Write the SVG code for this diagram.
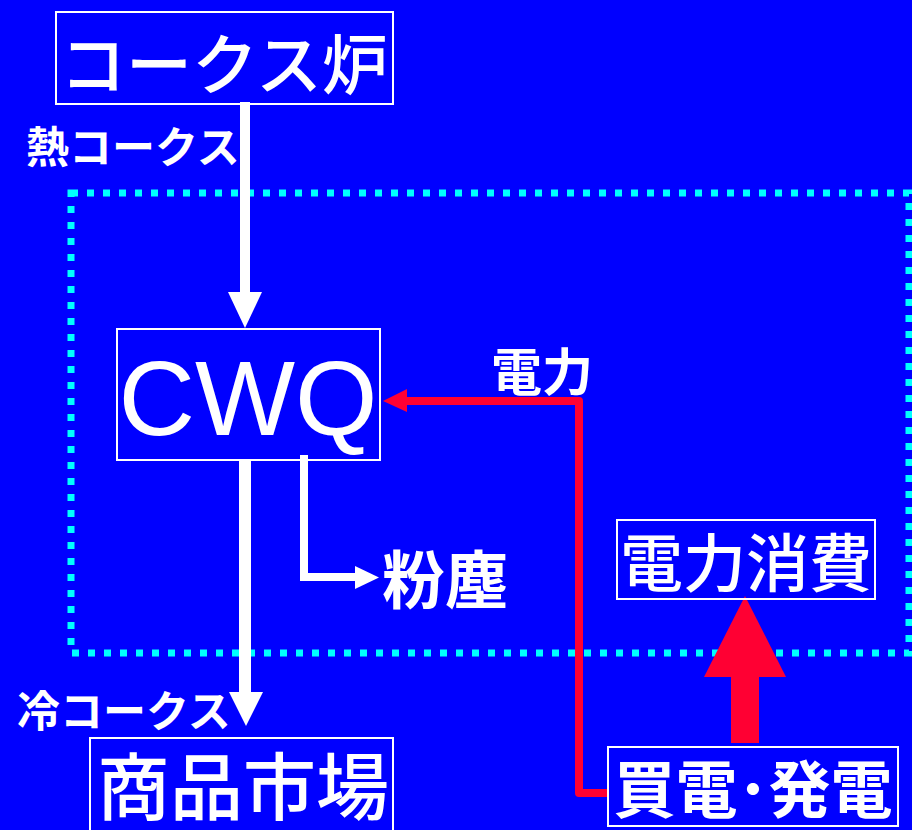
<svg xmlns="http://www.w3.org/2000/svg" width="912" height="830" viewBox="0 0 912 830">
<style>
.box{fill:none;stroke:#fff;stroke-width:2}
.jp{font-family:"Noto Sans CJK JP","Noto Sans",sans-serif;fill:#fff}
.m{font-weight:500}
.b{font-weight:bold}
.w{stroke:#fff;fill:none}
.r{stroke:#FF0033;fill:none}
</style>
<rect x="0" y="0" width="912" height="830" fill="#0000FF"/>
<rect x="71" y="193" width="838" height="460" fill="none" stroke="#00FFFF" stroke-width="7" stroke-dasharray="7 9"/>
<g id="connectors">
  <line class="w" x1="245" y1="102" x2="245" y2="294" stroke-width="10"/>
  <polygon points="228,292 262,292 245,328" fill="#fff"/>
  <line class="w" x1="245" y1="460" x2="245" y2="694" stroke-width="12"/>
  <polygon points="229,692 263,692 246,726" fill="#fff"/>
  <polyline class="w" points="304,455 304,577 357,577" stroke-width="8"/>
  <polygon points="355,566 379,577.5 355,589" fill="#fff"/>
  <polyline class="r" points="607,793 579,793 579,401 405,401" stroke-width="8" stroke-linejoin="round"/>
  <polygon points="407,389 383,401 407,412" fill="#FF0033"/>
  <rect x="731" y="675" width="28" height="68" fill="#FF0033"/>
  <polygon points="704,677 786,677 745,596" fill="#FF0033"/>
</g>
<g id="coke-oven">
  <rect class="box" x="56" y="12" width="337" height="92"/>
  <text class="jp m" x="224" y="89" font-size="66" text-anchor="middle">コークス炉</text>
</g>
<g id="label-hot">
  <text class="jp b" x="26" y="163" font-size="43">熱コークス</text>
</g>
<g id="cwq">
  <rect class="box" x="117" y="329" width="263" height="131"/>
  <text x="248" y="435" font-family="Liberation Sans,Arial,sans-serif" font-size="106" fill="#fff" text-anchor="middle">CWQ</text>
</g>
<g id="label-power">
  <text class="jp b" x="491" y="391" font-size="51">電力</text>
</g>
<g id="dust">
  <text class="jp b" x="382" y="603" font-size="63">粉塵</text>
</g>
<g id="power-use">
  <rect class="box" x="617" y="520" width="258" height="79"/>
  <text class="jp m" x="746" y="586" font-size="63" text-anchor="middle">電力消費</text>
</g>
<g id="label-cold">
  <text class="jp b" x="17" y="727" font-size="43">冷コークス</text>
</g>
<g id="market">
  <rect class="box" x="90" y="738" width="303" height="110"/>
  <text class="jp m" x="243" y="814" font-size="73" text-anchor="middle">商品市場</text>
</g>
<g id="purchase-gen">
  <rect class="box" x="608" y="747" width="290" height="79"/>
  <text class="jp b" x="753" y="813" font-size="62" text-anchor="middle">買電･発電</text>
</g>
</svg>
